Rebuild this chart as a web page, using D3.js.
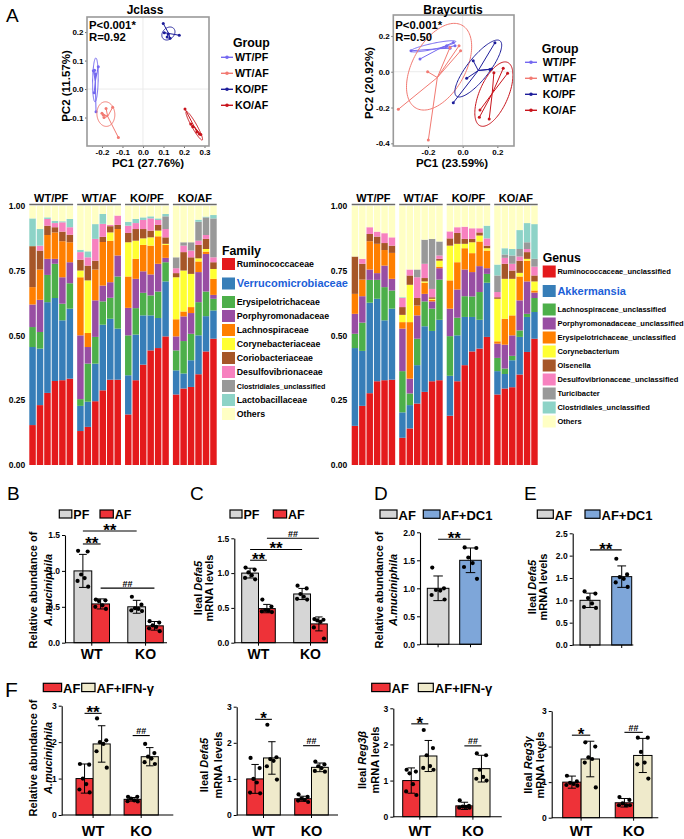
<!DOCTYPE html>
<html lang="en">
<head>
<meta charset="UTF-8">
<title>Microbiota figure</title>
<script src="https://d3js.org/d3.v7.min.js"></script>
<style>
  body { margin: 0; background: #fff; }
  svg { display: block; }
  text { font-family: Arial, "Liberation Sans", sans-serif; font-weight: bold; fill: #000; }
</style>
</head>
<body>
<svg width="684" height="839"></svg>
<script>
// ---------------- data ----------------
const pcoaGroups = ["WT/PF", "WT/AF", "KO/PF", "KO/AF"];
const pcoaColors = ["#7468f0", "#f27a72", "#1d1d9a", "#c8141c"];

// Jclass PCoA points [PC1, PC2]
const jclassWTPF = [[-0.242, 0.064], [-0.231, 0.053], [-0.218, 0.078], [-0.236, 0.066], [-0.238, -0.013], [-0.229, -0.080]];
const jclassWTAF = [[-0.194, -0.091], [-0.180, -0.068], [-0.148, -0.064], [-0.190, -0.100], [-0.120, -0.170], [-0.200, -0.085]];
const jclassKOPF = [[0.099, 0.230], [0.104, 0.198], [0.123, 0.193], [0.132, 0.178], [0.177, 0.189], [0.118, 0.183]];
const jclassKOAF = [[0.205, -0.070], [0.233, -0.123], [0.243, -0.132], [0.275, -0.158], [0.282, -0.160], [0.263, -0.151]];
// ellipses: [cx, cy, ux, uy, vx, vy]
const jclassEllipses = [[-0.232, 0.032, 0.002, 0.077, 0.0135, 0], [-0.181, -0.088, 0.043, -0.01, 0.008, 0.042],
                        [0.124, 0.195, 0.032, 0.006, 0, 0.022], [0.25, -0.129, 0.039, -0.05, 0.011, 0.004]];

// Braycurtis PCoA points
const brayWTPF = [[-0.298, 0.117], [-0.246, 0.071], [-0.092, 0.145], [-0.073, 0.131], [-0.054, 0.164], [-0.044, 0.145]];
const brayWTAF = [[-0.021, 0.145], [-0.012, 0.117], [-0.202, 0.0], [-0.371, -0.210], [-0.198, -0.382], [-0.073, 0.136]];
const brayKOPF = [[0.186, 0.162], [0.061, 0.061], [0.167, 0.015], [0.157, 0.013], [0.023, -0.037], [-0.054, -0.173]];
const brayKOAF = [[0.180, -0.006], [0.234, 0.019], [0.259, -0.009], [0.100, -0.214], [0.096, -0.255], [0.153, -0.264]];
const brayEllipses = [[-0.17, 0.142, 0.13, 0.027, 0.004, -0.016], [-0.136, 0.028, 0.117, 0.238, 0.147, -0.045],
                      [0.09, 0.018, 0.125, 0.155, 0.051, -0.036], [0.18, -0.125, 0.09, 0.17, 0.063, -0.059]];

// stacked composition: cumulative tops of the first 10 taxa per sample (rest = Others)
const stackGroups = ["WT/PF", "WT/AF", "KO/PF", "KO/AF"];
const stackColors = ["#e41a1c", "#377eb8", "#4daf4a", "#984ea3", "#ff7f00", "#ffff33", "#a65628", "#f781bf", "#999999", "#8dd3c7", "#ffffc4"];
const familyNames = ["Ruminococcaceae", "Verrucomicrobiaceae", "Erysipelotrichaceae", "Porphyromonadaceae", "Lachnospiraceae",
  "Corynebacteriaceae", "Coriobacteriaceae", "Desulfovibrionaceae", "Clostridiales_unclassified", "Lactobacillaceae", "Others"];
const genusNames = ["Ruminococcaceae_unclassified", "Akkermansia", "Lachnospiraceae_unclassified", "Porphyromonadaceae_unclassified",
  "Erysipelotrichaceae_unclassified", "Corynebacterium", "Olsenella", "Desulfovibrionaceae_unclassified", "Turicibacter",
  "Clostridiales_unclassified", "Others"];

const famWTPF = [[.154,.455,.532,.619,.686,.686,.844,.844,.844,.951],[.231,.449,.513,.637,.754,.754,.827,.846,.846,.910],
  [.278,.628,.733,.795,.887,.887,.923,.949,.949,.955],[.324,.644,.776,.795,.897,.897,.917,.933,.933,.942],
  [.327,.558,.622,.724,.863,.863,.900,.936,.936,.940],[.333,.603,.701,.782,.859,.859,.888,.917,.917,.949]];
const famWTAF = [[.131,.228,.254,.500,.724,.750,.792,.821,.821,.830],[.147,.244,.391,.455,.509,.712,.769,.801,.801,.824],
  [.246,.391,.494,.635,.754,.754,.788,.872,.872,.929],[.288,.541,.631,.692,.860,.860,.880,.930,.930,.968],
  [.329,.564,.645,.705,.865,.897,.921,.926,.926,.926],[.329,.526,.727,.808,.910,.910,.926,.962,.962,.962]];
const famKOPF = [[.195,.346,.500,.606,.727,.859,.895,.923,.923,.938],[.327,.503,.605,.718,.795,.865,.910,.933,.933,.949],
  [.387,.577,.664,.747,.849,.874,.910,.945,.945,.955],[.442,.577,.654,.735,.846,.878,.904,.951,.951,.959],
  [.451,.567,.669,.776,.882,.904,.926,.945,.945,.951],[.496,.708,.782,.799,.849,.853,.878,.910,.959,.968]];
const famKOAF = [[.272,.365,.442,.496,.562,.724,.740,.759,.801,.801],[.295,.353,.478,.573,.592,.750,.821,.846,.859,.859],
  [.301,.404,.506,.586,.609,.737,.801,.827,.859,.859],[.350,.500,.628,.744,.785,.797,.849,.865,.938,.946],
  [.438,.574,.669,.814,.823,.833,.872,.887,.955,.958],[.487,.596,.641,.656,.718,.756,.782,.801,.951,.964]];

const genWTPF = [[.151,.451,.506,.583,.660,.660,.804,.804,.804,.804],[.228,.440,.549,.651,.715,.715,.776,.795,.795,.795],
  [.277,.626,.714,.754,.863,.863,.891,.917,.917,.917],[.323,.641,.714,.740,.853,.853,.881,.900,.900,.900],
  [.327,.558,.686,.769,.829,.829,.856,.894,.894,.894],[.329,.603,.673,.718,.818,.818,.846,.878,.878,.878]];
const genWTAF = [[.105,.203,.362,.526,.551,.579,.609,.644,.644,.647],[.141,.231,.276,.333,.551,.695,.731,.754,.754,.754],
  [.237,.385,.487,.577,.615,.615,.644,.724,.754,.754],[.282,.535,.631,.660,.703,.708,.721,.776,.869,.869],
  [.323,.517,.603,.631,.637,.641,.647,.679,.872,.872],[.327,.560,.715,.759,.765,.788,.795,.808,.862,.862]];
const genKOPF = [[.190,.344,.497,.603,.712,.846,.874,.901,.901,.901],[.323,.500,.568,.677,.782,.853,.895,.917,.917,.917],
  [.385,.571,.651,.754,.836,.853,.872,.919,.919,.919],[.438,.571,.650,.744,.817,.859,.872,.913,.913,.913],
  [.449,.560,.667,.767,.862,.885,.897,.913,.913,.913],[.494,.703,.737,.759,.827,.836,.846,.874,.874,.923]];
const genKOAF = [[.272,.362,.413,.468,.477,.641,.647,.667,.731,.773],[.295,.351,.372,.464,.564,.718,.776,.799,.812,.836],
  [.300,.404,.421,.500,.577,.718,.750,.776,.808,.833],[.349,.494,.519,.635,.727,.741,.788,.804,.833,.906],
  [.436,.571,.583,.708,.788,.795,.821,.833,.859,.933],[.487,.590,.644,.665,.673,.708,.731,.765,.795,.929]];

// bar panels
const gray = "#d6d6d6", red = "#ee3238", blue = "#7ea6d9", beige = "#efeacb";
const wtko = ["WT", "KO"];
const pfaf = ["PF", "AF"];
const ifnSeries = ["AF", "AF+IFN-\u03b3"];
const dc1Series = ["AF", "AF+DC1"];

const bMean = [[1.0, 0.54], [0.50, 0.235]];
const bSd = [[0.23, 0.07], [0.09, 0.06]];
const bPts = [[[1.28, 1.27, 0.95, 0.90, 0.86, 0.78], [0.60, 0.59, 0.58, 0.52, 0.50, 0.47]],
              [[0.64, 0.53, 0.48, 0.47, 0.45, 0.44], [0.30, 0.28, 0.24, 0.22, 0.20, 0.16]]];
const bSig = [["WT", "PF", "WT", "AF", 1.375, "**"], ["WT", "PF", "KO", "PF", 1.556, "**"], ["WT", "AF", "KO", "AF", 0.76, "##"]];

const cMean = [[1.0, 0.49], [0.70, 0.27]];
const cSd = [[0.07, 0.06], [0.08, 0.10]];
const cPts = [[[1.08, 1.05, 1.01, 0.97, 0.93, 0.91], [0.62, 0.52, 0.47, 0.46, 0.45, 0.44]],
              [[0.82, 0.78, 0.70, 0.66, 0.63, 0.62], [0.34, 0.33, 0.32, 0.30, 0.22, 0.06]]];
const cSig = [["WT", "PF", "WT", "AF", 1.185, "**"], ["WT", "PF", "KO", "PF", 1.34, "**"], ["WT", "AF", "KO", "AF", 1.5, "##"]];

const dMean = [[1.0, 1.5]];
const dSd = [[0.22, 0.22]];
const dPts = [[[1.37, 1.0, 0.97, 0.96, 0.88, 0.80], [1.73, 1.72, 1.55, 1.45, 1.38, 1.17]]];
const dSig = [["", "AF", "", "AF+DC1", 1.875, "**"]];

const eMean = [[1.0, 1.53]];
const eSd = [[0.16, 0.24]];
const ePts = [[[1.2, 1.15, 1.05, 0.93, 0.85, 0.83], [1.93, 1.58, 1.52, 1.48, 1.40, 1.30]]];
const eSig = [["", "AF", "", "AF+DC1", 2.13, "**"]];

const f1Mean = [[1.0, 1.95], [0.43, 1.6]];
const f1Sd = [[0.4, 0.5], [0.05, 0.25]];
const f1Pts = [[[1.4, 1.38, 1.0, 0.85, 0.7, 0.62], [2.65, 2.05, 2.0, 1.95, 1.75, 1.3]],
               [[0.5, 0.5, 0.45, 0.4, 0.38, 0.37], [1.95, 1.7, 1.6, 1.55, 1.45, 1.4]]];
const f1Sig = [["WT", "AF", "WT", "AF+IFN-\u03b3", 2.79, "**"], ["KO", "AF", "KO", "AF+IFN-\u03b3", 2.18, "##"]];

const f2Mean = [[1.0, 1.58], [0.45, 1.32]];
const f2Sd = [[0.4, 0.45], [0.07, 0.12]];
const f2Pts = [[[1.58, 1.3, 1.0, 0.9, 0.62, 0.6], [2.5, 1.6, 1.55, 1.5, 1.35, 0.98]],
               [[0.57, 0.5, 0.45, 0.42, 0.4, 0.36], [1.48, 1.4, 1.35, 1.3, 1.22, 1.2]]];
const f2Sig = [["WT", "AF", "WT", "AF+IFN-\u03b3", 2.65, "*"], ["KO", "AF", "KO", "AF+IFN-\u03b3", 1.92, "##"]];

const f3Mean = [[1.0, 1.68], [0.3, 1.33]];
const f3Sd = [[0.35, 0.43], [0.1, 0.37]];
const f3Pts = [[[1.3, 1.25, 1.2, 0.9, 0.7, 0.6], [2.4, 1.9, 1.7, 1.4, 1.35, 1.3]],
               [[0.45, 0.3, 0.28, 0.27, 0.25, 0.25], [1.75, 1.7, 1.3, 1.1, 1.05, 1.0]]];
const f3Sig = [["WT", "AF", "WT", "AF+IFN-\u03b3", 2.57, "*"], ["KO", "AF", "KO", "AF+IFN-\u03b3", 1.96, "##"]];

const f4Mean = [[1.0, 1.65], [0.42, 1.75]];
const f4Sd = [[0.17, 0.5], [0.12, 0.48]];
const f4Pts = [[[1.18, 1.02, 0.98, 0.95, 0.92, 0.9], [2.12, 2.0, 1.7, 1.65, 1.55, 0.85]],
               [[0.58, 0.5, 0.4, 0.35, 0.35, 0.35], [2.25, 2.25, 1.85, 1.55, 1.5, 1.1]]];
const f4Sig = [["WT", "AF", "WT", "AF+IFN-\u03b3", 2.32, "*"], ["KO", "AF", "KO", "AF+IFN-\u03b3", 2.4, "##"]];

const dotJitter = [-0.27, 0.27, -0.1, 0.1, -0.3, 0.3];

// ---------------- helpers ----------------
const svg = d3.select("svg");
svg.append("rect").attr("width", 684).attr("height", 839).attr("fill", "#fff");

function text(g, x, y, s, size, anchor) {
  return g.append("text").attr("x", x).attr("y", y).attr("font-size", size)
    .attr("text-anchor", anchor || "start").text(s);
}

function vlabel(g, x, y, parts, size) {
  const t = g.append("text").attr("transform", `translate(${x},${y}) rotate(-90)`)
    .attr("text-anchor", "middle").attr("dy", "0.35em").attr("font-size", size);
  parts.forEach(p => t.append("tspan").text(p[0]).style("font-style", p[1] ? "italic" : "normal"));
}

function letter(x, y, s, size) {
  text(svg, x, y, s, size || 19).style("font-weight", "normal");
}

// ---------------- PCoA ----------------
function drawPcoa(c) {
  const g = svg.append("g");
  const [x0, x1, y0, y1] = c.box;
  const x = d3.scaleLinear().domain(c.xDom).range([x0, x1]);
  const y = d3.scaleLinear().domain(c.yDom).range([y1, y0]);

  g.append("line").attr("x1", x(0)).attr("x2", x(0)).attr("y1", y0).attr("y2", y1).attr("stroke", "#ebebeb");
  g.append("line").attr("x1", x0).attr("x2", x1).attr("y1", y(0)).attr("y2", y(0)).attr("stroke", "#ebebeb");

  const fmt = d => d.toFixed(1);
  const xa = g.append("g").attr("transform", `translate(0,${y1})`)
    .call(d3.axisBottom(x).tickValues(c.xTicks).tickFormat(fmt).tickSize(2).tickPadding(1.5));
  const ya = g.append("g").attr("transform", `translate(${x0},0)`)
    .call(d3.axisLeft(y).tickValues(c.yTicks).tickFormat(fmt).tickSize(2).tickPadding(1.5));
  [xa, ya].forEach(a => {
    a.select(".domain").remove();
    a.selectAll("line").attr("stroke", "#666");
    a.selectAll("text").attr("font-size", 8);
  });

  const line = d3.line().x(d => x(d[0])).y(d => y(d[1]));
  c.points.forEach((pts, i) => {
    const col = pcoaColors[i];
    const e = c.ellipses[i];
    const ell = d3.range(0, 121).map(k => {
      const t = k / 120 * 2 * Math.PI;
      return [e[0] + e[2] * Math.cos(t) + e[4] * Math.sin(t), e[1] + e[3] * Math.cos(t) + e[5] * Math.sin(t)];
    });
    g.append("path").attr("d", line(ell)).attr("fill", "none").attr("stroke", col).attr("stroke-width", 1);
    const cx = d3.mean(pts, d => d[0]), cy = d3.mean(pts, d => d[1]);
    pts.forEach(p => g.append("line").attr("x1", x(cx)).attr("y1", y(cy)).attr("x2", x(p[0])).attr("y2", y(p[1]))
      .attr("stroke", col).attr("stroke-width", 1));
    g.selectAll(null).data(pts).join("circle").attr("cx", d => x(d[0])).attr("cy", d => y(d[1]))
      .attr("r", 1.5).attr("fill", col);
  });

  g.append("rect").attr("x", x0).attr("y", y0).attr("width", x1 - x0).attr("height", y1 - y0)
    .attr("fill", "none").attr("stroke", "#9a9a9a").attr("stroke-width", 1.6);

  text(g, c.titleX, 13.5, c.title, 12, "middle");
  text(g, x0 + 2, c.pY, "P<0.001*", 11.3);
  text(g, x0 + 2, c.pY + 12, c.r, 11.3);
  text(g, c.xLabX, 167, c.xLab, 11.5, "middle");
  vlabel(g, c.yLabX, c.yLabY, [[c.yLab, false]], 11.5);

  const L = c.legend;
  text(g, L.titleX, L.titleY, "Group", 12.3);
  pcoaGroups.forEach((name, i) => {
    const yy = L.y0 + i * 16;
    g.append("line").attr("x1", L.lx).attr("x2", L.lx + 12).attr("y1", yy).attr("y2", yy)
      .attr("stroke", pcoaColors[i]).attr("stroke-width", 1.4);
    g.append("circle").attr("cx", L.lx + 6).attr("cy", yy).attr("r", 1.8).attr("fill", pcoaColors[i]);
    text(g, L.tx, yy + 3.8, name, 10.7);
  });
}

// ---------------- stacked bars ----------------
function drawStack(c) {
  const g = svg.append("g");
  const rows = [];
  c.tops.forEach((grp, gi) => grp.forEach((t, bi) => {
    const row = { group: stackGroups[gi], bar: bi };
    c.names.forEach((n, k) => {
      row[n] = k < t.length ? t[k] - (k ? t[k - 1] : 0) : 1 - t[t.length - 1];
    });
    rows.push(row);
  }));
  const xg = d3.scaleBand().domain(stackGroups).range(c.xRange).paddingInner(0.085);
  const xb = d3.scaleBand().domain(d3.range(6)).range([0, xg.bandwidth()]).paddingInner(0.13);
  const y = d3.scaleLinear().domain([0, 1]).range([465, 205.7]);
  const series = d3.stack().keys(c.names)(rows);
  series.forEach((s, k) => {
    g.selectAll(null).data(s).join("rect")
      .attr("x", d => xg(d.data.group) + xb(d.data.bar))
      .attr("y", d => y(d[1]))
      .attr("width", xb.bandwidth())
      .attr("height", d => Math.max(0, y(d[0]) - y(d[1])))
      .attr("fill", stackColors[k]);
  });
  const ya = g.append("g").attr("transform", `translate(${c.xRange[0]},0)`)
    .call(d3.axisLeft(y).tickValues([0, 0.25, 0.5, 0.75, 1]).tickFormat(d3.format(".2f")).tickSize(0).tickPadding(c.pad));
  ya.select(".domain").remove();
  ya.selectAll("text").attr("font-size", 8.5);

  stackGroups.forEach(gk => {
    g.append("line").attr("x1", xg(gk)).attr("x2", xg(gk) + xg.bandwidth()).attr("y1", 204.5).attr("y2", 204.5)
      .attr("stroke", "#6b6b6b").attr("stroke-width", 1.6);
    text(g, xg(gk) + xg.bandwidth() / 2, 201.5, gk, 11, "middle");
  });

  const L = c.legend;
  text(g, L.x, L.titleY, c.title, 12.3);
  c.names.forEach((n, i) => {
    const cy = L.y0 + (i === 0 ? 0 : i === 1 ? 19.5 : 38 + 14 * (i - 2));
    g.append("rect").attr("x", L.x).attr("y", cy - 6).attr("width", 13).attr("height", 12).attr("fill", stackColors[i]);
    const size = i === 1 ? 11 : (L.sizes[n] || L.size);
    text(g, L.x + 14.7, cy + size * 0.36, n, size).style("fill", i === 1 ? "#1c5fd8" : "#000");
  });
}

// ---------------- bar panels ----------------
function drawBars(c) {
  const g = svg.append("g");
  const y = d3.scaleLinear().domain([0, c.yMax]).range(c.yPx);
  const xg = d3.scaleBand().domain(c.groups).range(c.barRange).paddingInner(c.pad || 0);
  const xs = d3.scaleBand().domain(c.series).range([0, xg.bandwidth()]).paddingInner(c.subPad || 0);
  const bw = xs.bandwidth();
  const cxOf = (gk, sk) => xg(gk) + xs(sk) + bw / 2;
  const bars = [];
  c.groups.forEach((gk, gi) => c.series.forEach((sk, si) =>
    bars.push({ gk, sk, si, m: c.mean[gi][si], sd: c.sd[gi][si], pts: c.pts[gi][si] })));

  g.selectAll(null).data(bars).join("rect")
    .attr("x", d => xg(d.gk) + xs(d.sk)).attr("y", d => y(d.m))
    .attr("width", bw).attr("height", d => y(0) - y(d.m))
    .attr("fill", d => c.colors[d.si]).attr("stroke", "#000").attr("stroke-width", 1);

  bars.forEach(d => {
    const cx = cxOf(d.gk, d.sk), cap = bw * 0.22;
    const lo = y(d.m - d.sd), hi = y(d.m + d.sd);
    g.append("line").attr("x1", cx).attr("x2", cx).attr("y1", lo).attr("y2", hi).attr("stroke", "#000");
    [lo, hi].forEach(v => g.append("line").attr("x1", cx - cap).attr("x2", cx + cap).attr("y1", v).attr("y2", v).attr("stroke", "#000"));
    d.pts.forEach((v, i) => g.append("circle").attr("cx", cx + dotJitter[i] * bw).attr("cy", y(v)).attr("r", 2.1).attr("fill", "#000"));
  });

  const ya = g.append("g").attr("transform", `translate(${c.axisX},0)`)
    .call(d3.axisLeft(y).tickValues(c.ticks).tickFormat(c.fmt).tickSize(3).tickSizeOuter(0).tickPadding(2));
  ya.select(".domain").attr("stroke-width", 1.1);
  ya.selectAll("text").attr("font-size", 8.5);
  g.append("line").attr("x1", c.axisX).attr("x2", c.axisEnd).attr("y1", y(0)).attr("y2", y(0))
    .attr("stroke", "#000").attr("stroke-width", 1.1);
  const tickXs = c.labels ? c.groups.map(gk => xg(gk) + xg.bandwidth() / 2) : bars.map(d => cxOf(d.gk, d.sk));
  tickXs.forEach(tx => g.append("line").attr("x1", tx).attr("x2", tx).attr("y1", y(0)).attr("y2", y(0) + 3).attr("stroke", "#000"));
  if (c.labels) c.groups.forEach(gk => text(g, xg(gk) + xg.bandwidth() / 2, c.labelY, gk, c.labelSize, "middle"));

  c.sig.forEach(s => {
    const xa = cxOf(s[0], s[1]), xb = cxOf(s[2], s[3]), yy = y(s[4]);
    g.append("line").attr("x1", xa).attr("x2", xb).attr("y1", yy).attr("y2", yy).attr("stroke", "#000").attr("stroke-width", 1.1);
    const star = s[5].includes("*");
    text(g, (xa + xb) / 2, star ? yy + 5 : yy - 1.5, s[5], star ? 17 : 9, "middle");
  });

  c.ylab.forEach((parts, i) => vlabel(g, c.ylabX[i], c.ylabY, parts, c.ylabSize || 11));

  if (c.legend) {
    const L = c.legend;
    c.series.forEach((sk, i) => {
      g.append("rect").attr("x", L.x[i]).attr("y", L.y).attr("width", L.w[i]).attr("height", L.h)
        .attr("fill", c.colors[i]).attr("stroke", "#000").attr("stroke-width", 1.2);
      text(g, L.x[i] + L.w[i] + 1.5, L.y + L.h + 1.2, sk, L.size);
    });
  }
}

// ---------------- panel A ----------------
letter(6, 22, "A", 19);

drawPcoa({
  box: [87, 209, 17, 146], xDom: [-0.273, 0.322], yDom: [-0.2, 0.253],
  xTicks: [-0.2, -0.1, 0, 0.1, 0.2, 0.3], yTicks: [-0.1, 0, 0.1, 0.2],
  points: [jclassWTPF, jclassWTAF, jclassKOPF, jclassKOAF], ellipses: jclassEllipses,
  title: "Jclass", titleX: 145, pY: 29, r: "R=0.92",
  xLab: "PC1 (27.76%)", xLabX: 148, yLab: "PC2 (11.57%)", yLabX: 66, yLabY: 86,
  legend: { titleX: 233, titleY: 47.3, y0: 57.3, lx: 221, tx: 235 }
});

drawPcoa({
  box: [393.3, 514, 15, 146], xDom: [-0.4, 0.296], yDom: [-0.415, 0.317],
  xTicks: [-0.2, 0, 0.2], yTicks: [-0.4, -0.2, 0, 0.2],
  points: [brayWTPF, brayWTAF, brayKOPF, brayKOAF], ellipses: brayEllipses,
  title: "Braycurtis", titleX: 453, pY: 29, r: "R=0.50",
  xLab: "PC1 (23.59%)", xLabX: 452, yLab: "PC2 (20.92%)", yLabX: 369, yLabY: 83,
  legend: { titleX: 541.7, titleY: 52.5, y0: 62.3, lx: 525, tx: 542.7 }
});

drawStack({
  tops: [famWTPF, famWTAF, famKOPF, famKOAF], names: familyNames, xRange: [29.3, 216.7], pad: 4,
  title: "Family",
  legend: { x: 222, titleY: 255, y0: 264, size: 8.8, sizes: { "Clostridiales_unclassified": 7.2 } }
});

drawStack({
  tops: [genWTPF, genWTAF, genKOPF, genKOAF], names: genusNames, xRange: [351.7, 537.7], pad: 4.5,
  title: "Genus",
  legend: { x: 542.7, titleY: 262, y0: 271.5, size: 7.5, sizes: {} }
});

// ---------------- panels B-E ----------------
letter(7, 500, "B", 19);
letter(190, 500, "C", 19);
letter(374, 500, "D", 19);
letter(524, 500, "E", 19);
letter(5, 697, "F", 21);

const f1 = d3.format(".1f");

drawBars({
  groups: wtko, series: pfaf, colors: [gray, red], mean: bMean, sd: bSd, pts: bPts, sig: bSig,
  yMax: 1.5, yPx: [642.7, 535], ticks: [0, 0.5, 1, 1.5], fmt: f1,
  axisX: 65, axisEnd: 167, barRange: [74, 163.3], pad: 0.34,
  labels: true, labelY: 659, labelSize: 14,
  ylab: [[["Relative abundance of", false]], [["A.muciniphila", true]]], ylabX: [33, 48], ylabY: 590,
  legend: { x: [59.3, 100], w: [12.5, 13.3], y: 510, h: 8, size: 12.5 }
});

drawBars({
  groups: wtko, series: pfaf, colors: [gray, red], mean: cMean, sd: cSd, pts: cPts, sig: cSig,
  yMax: 1.5, yPx: [642.7, 538.3], ticks: [0, 0.5, 1, 1.5], fmt: f1,
  axisX: 234.3, axisEnd: 328, barRange: [241.7, 327.3], pad: 0.354,
  labels: true, labelY: 659, labelSize: 14,
  ylab: [[["Ileal ", false], ["Defa5", true]], [["mRNA levels", false]]], ylabX: [198, 209], ylabY: 588,
  legend: { x: [230, 273.3], w: [12, 13.3], y: 510, h: 8, size: 12.5 }
});

drawBars({
  groups: [""], series: dc1Series, colors: [gray, blue], mean: dMean, sd: dSd, pts: dPts, sig: dSig,
  yMax: 2, yPx: [644.3, 532.3], ticks: [0, 0.5, 1, 1.5, 2], fmt: f1,
  axisX: 420, axisEnd: 481.7, barRange: [427.3, 481.3], subPad: 0.333,
  labels: false,
  ylab: [[["Relative abundance of", false]], [["A.muciniphila", true]]], ylabX: [379.3, 393.3], ylabY: 590,
  legend: { x: [380, 423.3], w: [17, 16.7], y: 510, h: 8.3, size: 13 }
});

drawBars({
  groups: [""], series: dc1Series, colors: [gray, blue], mean: eMean, sd: eSd, pts: ePts, sig: eSig,
  yMax: 2.5, yPx: [645, 533.3], ticks: [0, 0.5, 1, 1.5, 2, 2.5], fmt: f1,
  axisX: 572.7, axisEnd: 633.3, barRange: [580, 631.7], subPad: 0.37,
  labels: false,
  ylab: [[["Ileal ", false], ["Defa5", true]], [["mRNA levels", false]]], ylabX: [531.7, 543.3], ylabY: 587,
  legend: { x: [537.3, 585], w: [16, 15], y: 510, h: 8.3, size: 13 }
});

// ---------------- panel F ----------------
const fInt = d3.format("d");
const fLegendSize = 13;

drawBars({
  groups: wtko, series: ifnSeries, colors: [red, beige], mean: f1Mean, sd: f1Sd, pts: f1Pts, sig: f1Sig,
  yMax: 3, yPx: [815, 705.7], ticks: [0, 1, 2, 3], fmt: fInt,
  axisX: 61.7, axisEnd: 173.3, barRange: [76, 158.3], pad: 0.289,
  labels: true, labelY: 835.5, labelSize: 14.5,
  ylab: [[["Relative abundance of", false]], [["A.muciniphila", true]]], ylabX: [33.3, 48.3], ylabY: 758,
  legend: { x: [43.3, 81.7], w: [18.3, 13.3], y: 683.3, h: 8.3, size: fLegendSize }
});

drawBars({
  groups: wtko, series: ifnSeries, colors: [red, beige], mean: f2Mean, sd: f2Sd, pts: f2Pts, sig: f2Sig,
  yMax: 3, yPx: [815, 706.7], ticks: [0, 1, 2, 3], fmt: fInt,
  axisX: 236.7, axisEnd: 338, barRange: [246.7, 328.3], pad: 0.30,
  labels: true, labelY: 835.5, labelSize: 14.5,
  ylab: [[["Ileal ", false], ["Defa5", true]], [["mRNA levels", false]]], ylabX: [204, 218.3], ylabY: 765
});

drawBars({
  groups: wtko, series: ifnSeries, colors: [red, beige], mean: f3Mean, sd: f3Sd, pts: f3Pts, sig: f3Sig,
  yMax: 3, yPx: [816.7, 708.3], ticks: [0, 1, 2, 3], fmt: fInt,
  axisX: 393.3, axisEnd: 501.7, barRange: [402.7, 490], pad: 0.356,
  labels: true, labelY: 835.5, labelSize: 14.5,
  ylab: [[["Ileal ", false], ["Reg3\u03b2", true]], [["mRNA levels", false]]], ylabX: [361.7, 375], ylabY: 760,
  legend: { x: [371.7, 418.3], w: [18.3, 15], y: 683.3, h: 8.3, size: fLegendSize }
});

drawBars({
  groups: wtko, series: ifnSeries, colors: [red, beige], mean: f4Mean, sd: f4Sd, pts: f4Pts, sig: f4Sig,
  yMax: 3, yPx: [817.7, 711], ticks: [0, 1, 2, 3], fmt: fInt,
  axisX: 551.7, axisEnd: 658.3, barRange: [562.7, 652], pad: 0.30,
  labels: true, labelY: 835.5, labelSize: 14.5,
  ylab: [[["Ileal ", false], ["Reg3\u03b3", true]], [["mRNA levels", false]]], ylabX: [528.3, 540], ylabY: 765
});
</script>
</body>
</html>
